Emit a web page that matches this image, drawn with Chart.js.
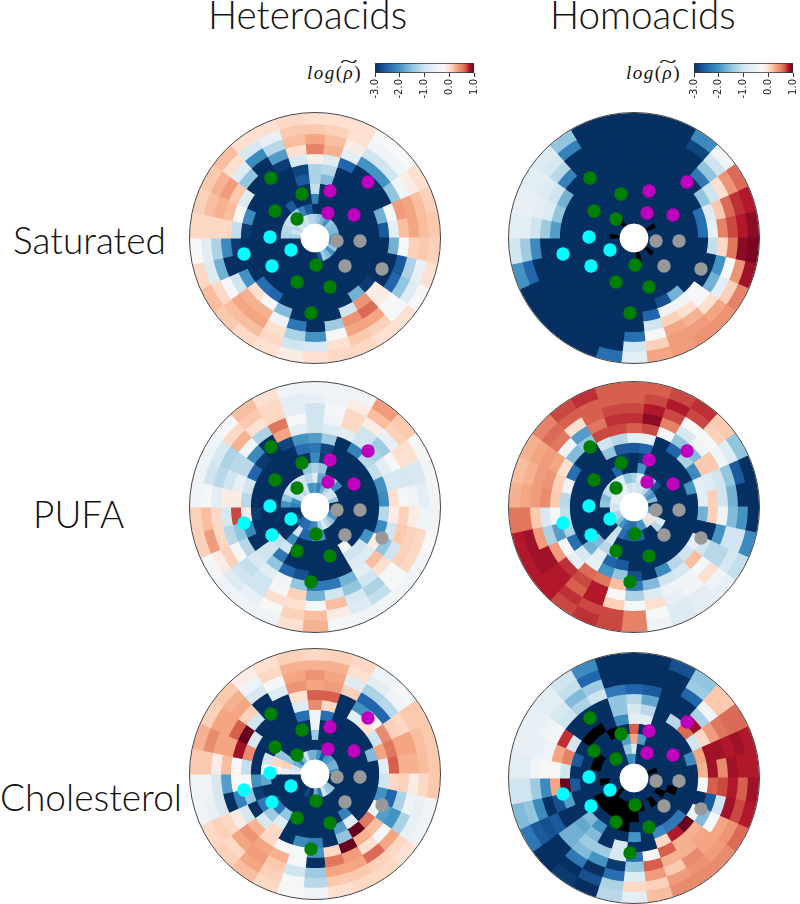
<!DOCTYPE html>
<html>
<head>
<meta charset="utf-8">
<script src="https://cdn.jsdelivr.net/npm/chart.js@4"></script>
<style>
    html, body { margin: 0; background: #fff; overflow: hidden; }
    body { position: relative; width: 800px; height: 904px; }
    canvas, .rim, .lbl, .cbl { position: absolute; }
    .lbl { font-family: Lato, 'Open Sans', sans-serif; font-weight: 300; font-size: 37px; color: #111; white-space: nowrap; line-height: 40px; }
    .lbl.top { font-size: 38.6px; }
    .rim { box-sizing: border-box; border: 1px solid #444; border-radius: 50%; pointer-events: none; }
    .cbl { font-family: 'Liberation Serif', serif; font-size: 19px; letter-spacing: 1.5px; color: #111; white-space: nowrap; }
    .cbl .t { position: absolute; left: 33px; top: -11px; font-size: 19px; transform: scaleX(1.7); transform-origin: left; letter-spacing: 0; }
</style>
</head>
<body>
<script>
// log(rho) per angular sector, clockwise from 12 o'clock; each row runs from the outer ring in
// null = below the colour range, drawn black
const satHetero = [
    [0,.15,.3,.5,-.1,-1.3,-1.3,-1.1,-2.2,-3,-1.3],
    [0,.1,.2,.25,-.8,-1.2,-1.6,-3,-3,-3,-1.5],
    [0,0,-.1,-.7,-2.5,-3,-3,-3,-3,-3,-1.7],
    [-.2,-.5,-1,-2,-3,-3,-3,-3,-3,-3,-2],
    [-.2,-.4,-1,-2,-3,-3,-3,-3,-3,-3,-1.5],
    [0,-.1,-.4,-1.5,-3,-3,-3,-3,-3,-3,-1.6],
    [.1,.2,.3,.35,-.3,-1.7,-3,-3,-3,-3,-1.6],
    [.15,.2,.3,.2,-.7,-2.6,-3,-3,-3,-3,-1.8],
    [.1,.15,.1,-.3,-1.7,-3,-3,-3,-3,-3,-2.2],
    [0,-.6,-1.3,-2.6,-3,-3,-3,-3,-3,-3,-2],
    [-.3,-.8,-1.5,-2.5,-3,-3,-3,-3,-3,-3,-1.5],
    [0,-.3,-.2,-.1,-.1,-2.9,-3,-3,-3,-3,-2],
    [0,.1,.3,.6,.4,-1.7,-3,-3,-3,-3,-1.6],
    [.05,.15,.3,.4,-1,-3,-3,-3,-3,-3,-1.4],
    [.05,0,-.3,-1.4,-3,-3,-3,-3,-3,-3,-2.6],
    [0,-.9,-2,-3,-3,-3,-3,-3,-3,-3,-3],
    [-.1,-1,-1.3,-2.3,-3,-3,-3,-3,-3,-3,-3],
    [0,.05,0,-.5,-1.6,-3,-3,-3,-3,-3,-3],
    [.05,.2,.3,.25,-.3,-2.5,-3,-3,-3,-3,-3],
    [.15,.2,.3,.25,0,-2.4,-3,-3,-3,-3,-3],
    [.2,.05,-.2,-1,-2,-3,-3,-3,-3,-3,-3],
    [.05,-.8,-1.7,-3,-3,-3,-3,-3,-3,-3,-3],
    [-.2,-.7,-1.3,-2.1,-2.9,-3,-3,-3,-3,-3,-3],
    [.05,.05,.05,.05,-1.1,-2.9,-3,-3,-3,-1.3,-1.3],
    [.1,.2,.25,.2,-.2,-2.1,-3,-3,-3,-1.2,-1],
    [.15,.25,.35,.15,-.8,-3,-3,-3,-3,-1.1,-1.2],
    [.2,0,-.8,-1.5,-3,-3,-3,-3,-3,-1,-1],
    [0,-.9,-2.1,-3,-3,-3,-3,-3,-2.6,-1.4,-1.1],
    [0,-.6,-1.2,-1.9,-2.9,-3,-3,-3,-3,-2.2,-1],
    [.05,.15,.2,0,-.9,-2.8,-2.6,-3,-3,-2.6,-1.2],
];
const satHomo = [
    [-3,-3,-3,-3,-3,-3,-3,-3,-3,-3,-3],
    [-3,-3,-3,-3,-3,-3,-3,-3,-3,-3,-3],
    [-3,-3,-3,-3,-3,-3,-3,-3,-3,-3,-3],
    [-2.1,-2.8,-3,-3,-3,-3,-3,-3,-3,-3,-3],
    [-.4,-1,-1.5,-2.3,-3,-3,-3,-3,-3,-3,-3],
    [.6,.4,0,-1,-1.5,-3,-3,-3,-3,-3,null],
    [.8,.75,.6,.15,-.8,-2.4,-3,-3,-3,-3,-3],
    [.9,.8,.7,.5,-.6,-2.4,-3,-3,-3,-3,-3],
    [.95,.9,.55,.05,-1.1,-3,-3,-3,-3,-3,-3],
    [.85,.4,-.2,-2,-3,-3,-3,-3,-3,-3,-3],
    [.5,.1,-.7,-1.7,-3,-3,-3,-3,-3,-3,-3],
    [.4,.3,0,-.3,-.2,-3,-3,-3,-3,-3,null],
    [.4,.35,.25,0,-.4,-1.7,-3,-3,-3,-3,-3],
    [.35,.35,.3,.1,-.4,-2.7,-3,-3,-3,-3,-3],
    [.3,.1,-.2,-1,-2.5,-3,-3,-3,-3,-3,null],
    [-.7,-1,-2.4,-3,-3,-3,-3,-3,-3,-3,-3],
    [-2.4,-3,-3,-3,-3,-3,-3,-3,-3,-3,-3],
    [-3,-3,-3,-3,-3,-3,-3,-3,-3,-3,-3],
    [-3,-3,-3,-3,-3,-3,-3,-3,-3,-3,-3],
    [-3,-3,-3,-3,-3,-3,-3,-3,-3,-3,-3],
    [-3,-3,-3,-3,-3,-3,-3,-3,-3,-3,-3],
    [-2,-2.5,-3,-3,-3,-3,-3,-3,-3,-3,-3],
    [-1,-1.4,-2.1,-3,-3,-3,-3,-3,-3,-3,-3],
    [-.7,-.7,-1,-1.4,-1.9,-3,-3,-3,-3,-3,null],
    [-.6,-.6,-.7,-.8,-1.5,-3,-3,-3,-3,-3,-3],
    [-.7,-.7,-.8,-1,-1.7,-3,-3,-3,-3,-3,-3],
    [-.8,-.9,-1.2,-2.2,-3,-3,-3,-3,-3,-3,-3],
    [-1.5,-2.2,-3,-3,-3,-3,-3,-3,-3,-3,null],
    [-3,-3,-3,-3,-3,-3,-3,-3,-3,-3,-3],
    [-3,-3,-3,-3,-3,-3,-3,-3,-3,-3,-3],
];
const pufaHetero = [
    [-.4,-.6,-1,-1,-1,-1.9,-2.3,-2.1,-1.3,-.7,-1.9],
    [-.5,-.5,-.3,-.4,-.8,-1.4,-2.8,-2.9,-1.5,-1.8,-2.2],
    [-.4,-.1,.05,.05,-.7,-3,-3,-3,-3,-2,-1.7],
    [.35,.2,-.1,-1,-1,-2.2,-3,-3,-3,-1.4,-1.2],
    [.15,.1,-.6,-1.4,-1.3,-1.2,-3,-3,-3,-2.1,-1],
    [-.3,0,0,-.3,-.7,-1.1,-3,-3,-3,-3,-1],
    [-.4,-.9,-.9,-.9,-.9,-2,-3,-3,-3,-3,-1.5],
    [-.4,-.7,-.5,-.3,0,-2.1,-3,-3,-3,-3,-3],
    [-.4,-.5,-.1,.1,-.1,-1.2,-3,-3,-3,-3,-3],
    [-.2,.05,.1,.15,-1,-2.1,-3,-3,-3,-3,-2.2],
    [-.4,.05,.1,-1,-1.5,-.1,-2,-3,-3,-3,-2],
    [-.4,-.3,-.3,0,.2,-.8,-1,-3,-3,-3,-1.5],
    [-.4,-1.1,-1.3,-1,-.7,-.8,-1,-.3,-3,-3,-1.2],
    [-.4,-.8,-.9,-1.5,-1.7,-3,-3,-3,-3,-3,-.9],
    [-.3,-.1,.2,-1,-2.3,-3,-3,-3,-3,-2,-1.3],
    [.25,.2,-.3,-1.7,-2.3,-3,-3,-3,-3,-2,-2.1],
    [0,.1,0,.1,-1.5,-2.7,-3,-3,-3,-2.5,-2.2],
    [-.5,-.2,0,-.3,-.4,-2.5,-3,-3,-3,-2.5,-2.4],
    [-.5,-.6,-1,-1,-.7,-1.5,-2.3,-1,-2.1,-1,-2.4],
    [-.5,-.8,-1,-1.1,-.9,-1,-1,-1.1,-3,-3,-2.5],
    [-.3,-.1,.1,-.3,-1.2,-3,-3,-3,-3,-3,-2.9],
    [.1,.35,.05,-1.2,-1.5,-2.1,-3,-3,-3,-3,-3],
    [.1,.2,.05,-.9,.7,-.1,-2.9,-3,-3,-3,-3],
    [-.4,-.3,-.7,-.1,-.1,-1.2,-3,-3,-3,-2,-2.2],
    [-.5,-1,-1.2,-1,-.6,-1,-3,-3,-3,-1.5,-2],
    [-.5,-.9,-1.3,-1.2,-1.2,-2.5,-3,-3,-3,-1,-1.1],
    [-.3,.05,.25,-.4,-2.1,-2.9,-3,-3,-3,-1,-1],
    [.2,.15,0,-1.3,-3,-3,-3,-3,-3,-1,-1.2],
    [0,.05,.05,.55,.3,-2.8,-3,-3,-3,-1,-1],
    [-.5,-.7,-.7,-.2,-.7,-2,-2.4,-3,-1.5,-1.2,-2],
];
const pufaHomo = [
    [.65,.65,.7,.75,.65,-.7,-2.6,-3,-3,-1.3,-.8],
    [.65,.7,.8,.9,.7,-.7,-2.5,-2.9,-2,-.8,-1],
    [.7,.8,.7,.5,-.2,-3,-3,-3,-3,-2,-1],
    [.75,.7,-.2,-.9,-1.5,-2.5,-3,-3,-3,-1.5,-1.2],
    [.15,.1,-.2,-.4,-1.6,-1.3,-3,-3,-3,-2.7,-1.8],
    [-1.5,-.8,-.4,.15,.15,-2.1,-3,-3,-3,-3,-2],
    [-3,-2.6,-1.5,-1,-.8,-.7,-2,-3,-3,-3,-1.6],
    [-3,-3,-1.7,-1,.1,-.7,-3,-3,-3,-3,-3],
    [-3,-2,-1.6,-.4,.1,-1.7,-3,-3,-3,-3,-2],
    [-2.1,-1,-1,-2,-3,-3,-3,-3,-3,-3,-1.8],
    [-1.1,-.9,-1.2,-1.2,-1,-.6,-3,-3,-3,-.8,-.8],
    [-.6,-.5,0,-.3,.2,-1,-3,-3,-3,-1.2,0],
    [-.7,-.7,-.4,-.4,-.9,-1.2,-3,-3,-3,-3,-1],
    [-.8,-.8,-.6,-.5,-1,-2.1,-3,-3,-3,-3,-2],
    [-.5,-.2,0,-.8,-1.6,-3,-3,-3,-3,-2.5,-2],
    [.5,.5,-.2,-1.3,-2.3,-2.7,-3,-3,-3,-2.4,-2.4],
    [.7,.7,.1,-.2,.2,-1.5,-2.6,-3,-3,-2.6,-2.4],
    [.75,.7,.8,.8,.55,-2,-2.5,-1.3,-3,-2.4,-2.3],
    [.7,.75,.65,.7,.6,-.6,-.7,-1.2,-1,-1.1,-2],
    [.8,.8,.8,.75,-.6,-.9,-1.7,-1.6,-3,-3,-1.6],
    [.8,.85,.85,.35,-.2,-2.4,-3,-3,-3,-3,-1.3],
    [.8,.85,.35,-1.3,-1.9,-1.3,-3,-3,-3,-3,-1.3],
    [.55,.55,.15,-.9,-.2,-1.1,-3,-3,-3,-3,-1],
    [.25,.3,.35,.45,.15,-1.2,-3,-3,-3,-1.5,-1],
    [.2,.25,.35,.4,.1,-.5,-3,-3,-3,-1.6,-.7],
    [.25,.3,.35,.3,0,-2.4,-3,-3,-3,-1.1,-.7],
    [.5,.6,.55,-.5,-1.6,-3,-3,-3,-3,-1,-.6],
    [.7,.65,0,-1.9,-1.5,-3,-3,-3,-3,-.9,-.5],
    [.75,.65,.65,.55,.7,-1,-1.5,-3,-2.5,-.8,-.6],
    [.65,.65,.7,.75,.7,-1.2,-2.6,-2.9,-3,-1.5,-1],
];
const cholHetero = [
    [.05,.25,.4,.3,.65,.45,-.5,-.5,-1.4,-3,-1.7],
    [.1,.25,.3,.35,.65,.05,-2.4,-3,-3,-3,-2],
    [.05,0,-.8,.1,-3,-3,-3,-3,-3,-3,-2.6],
    [-.5,-.7,-1.3,-2.5,-2,-.7,-3,-3,-3,-3,-2],
    [-.3,-.5,-1.2,-2.5,-.3,0,-3,-3,-3,-3,-1.9],
    [.15,.15,.05,.1,.45,-1,-3,-3,-3,-3,-1.7],
    [.15,.2,.3,.3,.55,.3,-1.6,-3,-3,-3,-1.7],
    [.15,.2,.25,.25,.65,-.7,-3,-3,-3,-3,-2],
    [.15,.05,-.1,.1,.05,-1,-3,-3,-3,-3,-3],
    [-.4,-.6,-.5,-1.3,-2.5,-2,-3,-3,-3,-3,-3],
    [-.5,-.6,-1.3,-2,-1.9,-.4,-3,-3,-3,-3,-3],
    [0,.05,.3,-.3,.2,.55,-3,-3,-3,-3,-1.5],
    [.05,.1,.6,0,.25,1,-.7,-2.2,-3,-3,-1.4],
    [.05,.15,.3,.35,1,-1.5,-1.9,-3,-3,-3,-1],
    [0,.15,.3,.55,.05,-3,-3,-3,-3,-3,-2.3],
    [-.4,-1.2,-1.4,-3,-2,-2.2,-3,-3,-3,-3,-1.7],
    [-.2,-.3,-1,-.3,-.3,-2.1,-3,-3,-3,-3,-3],
    [.05,.1,.15,.25,-.2,-3,-3,-3,-3,-3,-2.8],
    [.2,.3,.35,.3,.05,.05,-.8,-1.5,-3,-3,-3],
    [.1,.05,.3,.4,.25,-.9,-1.4,-2.3,-3,-3,-3],
    [.05,.1,.05,-.1,-.9,-3,-2.3,-3,-3,-3,-3],
    [-.5,-.6,-.9,-3,-2.2,-1.5,-2.9,-3,-3,-3,-3],
    [-.5,-.5,-.9,-1.9,-.2,-.2,-2,-1.8,-3,-3,-3],
    [.15,.15,-.1,.2,-.2,-1.1,-3,-.5,-.3,-.6,-.7],
    [.25,.45,.3,.3,.85,.45,-3,-1,.05,.1,-1],
    [.1,.3,.3,.65,1,-.9,-3,-3,-1.5,-1.5,-1.7],
    [.15,.25,.3,.1,-1,-3,-3,-3,-3,-3,-2.2],
    [-.1,-.5,-.9,-3,-3,-3,-3,-3,-3,-3,-1.6],
    [0,.05,-.3,-.8,-3,-3,-3,-3,-3,-3,-1],
    [.1,.25,.3,.4,0,-.8,-2.4,-3,-3,-3,-1.7],
];
const cholHomo = [
    [-3,-3,-3,-2.5,-1.2,-.9,-.7,.65,.3,-.9,-2],
    [-3,-3,-3,-2.6,-1.8,-1.2,-.7,-3,-1.9,-3,-3],
    [-2.7,-3,-3,-3,-3,-3,-3,-3,-3,-3,-3],
    [-1.5,-1.4,-2.5,-3,-3,-1.2,-3,-3,-3,-3,-3],
    [.15,.15,-.4,-1.3,.85,.6,-3,-3,-3,-3,-3],
    [.6,.6,.55,.35,.05,-1,-3,-3,-3,-3,-3],
    [.8,.85,.8,.85,.85,.3,-2.1,-3,-3,-3,null],
    [.8,.8,.85,.45,.85,.25,-3,-3,-3,-3,-3],
    [.85,.65,.8,.7,.65,-.2,-3,-3,-3,-3,-3],
    [.8,.7,.85,-1,-2.6,-3,-3,-3,null,-3,-3],
    [.6,.4,.3,-.2,-1.6,-.5,-3,-3,-3,null,-3],
    [.45,.35,.3,.3,.25,1,-2.3,-3,-3,-3,-3],
    [.45,.4,.45,.25,.25,.8,-2.3,-3,-3,null,-3],
    [.45,.35,.15,.25,.65,.05,-2.1,-3,-3,-3,-3],
    [.2,.1,.35,.65,-.2,-3,-3,-3,-3,null,-3],
    [-.7,.05,-.8,-1.5,-2.4,-3,-2,-3,null,null,-3],
    [-1.2,-1.3,-2.4,-2.9,-.9,-.9,-3,null,null,null,-3],
    [-3,-2.7,-3,-2,-1.4,-3,-3,-3,null,null,-3],
    [-2.9,-3,-2.3,-1.6,-1.4,-1.6,-2,-3,null,null,-3],
    [-3,-3,-3,-1.7,-1.7,-1.8,-1.6,-3,null,null,null],
    [-2.3,-2.6,-2.7,-2.6,-3,-3,-3,-3,null,-3,-3],
    [-1.6,-1.5,-2.1,-3,-2.7,-1.9,-3,-3,-3,-3,-3],
    [-1,-1,-1.4,-2.1,.3,1,-2.6,-3,-3,null,-3],
    [-.7,-.7,-.4,-.2,-.2,-1,-3,-3,-3,-3,-3],
    [-.6,-.6,-.6,-.5,.3,.5,-2.6,-3,null,-3,-3],
    [-.6,-.6,-.5,-.3,.75,-1,-3,-3,null,-3,-3],
    [-.7,-.7,-.9,-1,-3,-3,null,-3,-3,-3,-3],
    [-1,-1.1,-1.6,-1.3,-3,-3,null,-3,-3,-3,-3],
    [-2.1,-2.5,-1.4,-1,-3,-3,-3,null,-3,-3,-3],
    [-3,-3,-3,-2.3,-1.5,-1.5,-2.1,-3,-1.9,-1.5,-2.1],
];

// site positions on the disc, radius of the disc = 125 units
const greenSites = [[-44,60],[-13,44],[-40,27],[-18,19],[1,-27],[-18,-44],[15,-49],[-4,-75]];
const magentaSites = [[15,47],[53,56],[13,25],[39,23]];
const cyanSites = [[-45,1],[-24,-12],[-71,-16],[-43,-28]];
const greySites = [[22,-3],[45,-3],[30,-28],[67,-31]];

const colTitles = ['Heteroacids', 'Homoacids'];
const rowTitles = ['Saturated', 'PUFA', 'Cholesterol'];
const colourTicks = [-3, -2, -1, 0, 1];

const colourStops = [
    [-3, '#053061'], [-2.5, '#2166ac'], [-2, '#4393c3'], [-1.5, '#92c5de'], [-1, '#d1e5f0'],
    [-.5, '#eef3f7'], [-.2, '#f7f7f7'], [0, '#fde0d0'], [.15, '#fbc9ae'], [.3, '#f4a582'],
    [.5, '#e58268'], [.65, '#d6604d'], [.8, '#b2182b'], [1, '#67001f'],
];

function hexToRgb(h) {
    return [1, 3, 5].map((i) => parseInt(h.slice(i, i + 2), 16));
}

function cellColour(v) {
    if (v === null) {
        return '#000000';
    }
    for (let i = 1; i < colourStops.length; i++) {
        const [v1, c1] = colourStops[i];
        if (v <= v1) {
            const [v0, c0] = colourStops[i - 1];
            const t = (v - v0) / (v1 - v0);
            const a = hexToRgb(c0);
            const b = hexToRgb(c1);
            return `rgb(${a.map((x, j) => Math.round(x + (b[j] - x) * t)).join(',')})`;
        }
    }
    return colourStops[colourStops.length - 1][1];
}

function addCanvas(x, y, w, h) {
    const c = document.createElement('canvas');
    c.width = w;
    c.height = h;
    c.style.left = x + 'px';
    c.style.top = y + 'px';
    c.style.width = w + 'px';
    c.style.height = h + 'px';
    document.body.appendChild(c);
    return c;
}

function addLabel(text, x, y, cls) {
    const d = document.createElement('div');
    d.className = 'lbl ' + (cls || '');
    d.textContent = text;
    d.style.left = x + 'px';
    d.style.top = y + 'px';
    document.body.appendChild(d);
}

function mountDisc(sectors, cx, cy) {
    const ringCount = sectors[0].length;
    const equalArcs = sectors.map(() => 1);
    const datasets = [];
    for (let r = 0; r < ringCount; r++) {
        const colours = sectors.map((s) => cellColour(s[r]));
        datasets.push({ data: equalArcs, backgroundColor: colours, borderColor: colours, borderWidth: 1.2 });
    }
    new Chart(addCanvas(cx - 127, cy - 127, 254, 254), {
        type: 'doughnut',
        data: { labels: sectors.map((s, i) => i), datasets },
        options: {
            responsive: false,
            animation: false,
            rotation: -6,
            cutout: 15,
            layout: { padding: 2 },
            plugins: { legend: { display: false }, tooltip: { enabled: false } },
        },
    });

    const rim = document.createElement('div');
    rim.className = 'rim';
    rim.style.left = (cx - 126) + 'px';
    rim.style.top = (cy - 126) + 'px';
    rim.style.width = '252px';
    rim.style.height = '252px';
    document.body.appendChild(rim);

    const toPoints = (list) => list.map(([x, y]) => ({ x, y }));
    new Chart(addCanvas(cx - 125, cy - 125, 250, 250), {
        type: 'scatter',
        data: {
            datasets: [
                { data: toPoints(greenSites), backgroundColor: '#008000' },
                { data: toPoints(magentaSites), backgroundColor: '#bf00bf' },
                { data: toPoints(cyanSites), backgroundColor: '#00ffff' },
                { data: toPoints(greySites), backgroundColor: '#999999' },
            ],
        },
        options: {
            responsive: false,
            animation: false,
            layout: { autoPadding: false },
            elements: { point: { radius: 6.7, borderWidth: 0 } },
            scales: {
                x: { display: false, min: -125, max: 125 },
                y: { display: false, min: -125, max: 125 },
            },
            plugins: { legend: { display: false }, tooltip: { enabled: false } },
        },
    });
}

function mountColourbar(left, top) {
    new Chart(addCanvas(left - 10, top - 1, 123, 36), {
        type: 'bar',
        data: {
            labels: [''],
            datasets: [{
                data: [[colourTicks[0], colourTicks[colourTicks.length - 1]]],
                categoryPercentage: 1,
                barPercentage: 1,
                borderWidth: 1,
                borderColor: '#333',
                borderSkipped: false,
                backgroundColor: (ctx) => {
                    const area = ctx.chart.chartArea;
                    if (!area) {
                        return '#f7f7f7';
                    }
                    const g = ctx.chart.ctx.createLinearGradient(area.left, 0, area.right, 0);
                    colourStops.forEach(([v, c]) => g.addColorStop((v + 3) / 4, c));
                    return g;
                },
            }],
        },
        options: {
            indexAxis: 'y',
            responsive: false,
            animation: false,
            layout: { padding: { left: 10, right: 10, top: 1, bottom: 0 } },
            scales: {
                y: { display: false },
                x: {
                    min: -3,
                    max: 1,
                    afterFit: (s) => { s.height = 25; },
                    afterBuildTicks: (s) => { s.ticks = colourTicks.map((value) => ({ value })); },
                    grid: { drawOnChartArea: false, tickLength: 4, color: '#333' },
                    border: { display: false },
                    ticks: {
                        minRotation: 90,
                        maxRotation: 90,
                        padding: 2,
                        color: '#222',
                        font: { family: 'DejaVu Sans', size: 10 },
                        callback: (v) => Number(v).toFixed(1),
                    },
                },
            },
            plugins: { legend: { display: false }, tooltip: { enabled: false } },
        },
    });

    const lab = document.createElement('div');
    lab.className = 'cbl';
    lab.style.left = (left - 68) + 'px';
    lab.style.top = (top - 1) + 'px';
    lab.innerHTML = '<i>log</i>(<i>ρ</i>)<span class="t">~</span>';
    document.body.appendChild(lab);
}

mountDisc(satHetero, 315, 237.5);
mountDisc(satHomo, 634, 238);
mountDisc(pufaHetero, 315, 507);
mountDisc(pufaHomo, 634, 507);
mountDisc(cholHetero, 315, 774);
mountDisc(cholHomo, 634, 778);

mountColourbar(375, 63);
mountColourbar(694, 63);

addLabel(colTitles[0], 208, -6, 'top');
addLabel(colTitles[1], 550, -6, 'top');
addLabel(rowTitles[0], 13, 220);
addLabel(rowTitles[1], 33, 494);
addLabel(rowTitles[2], 0, 777);
</script>
</body>
</html>
